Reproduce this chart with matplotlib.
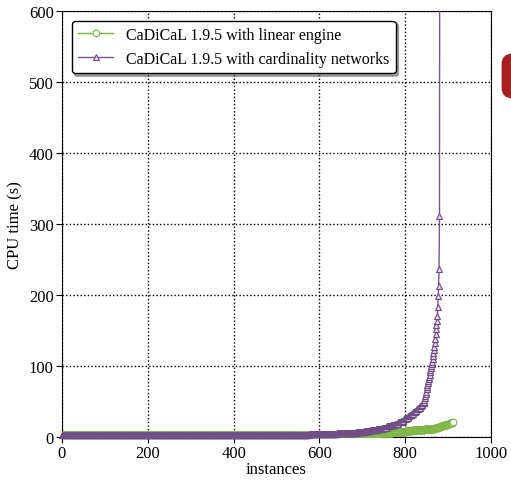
import numpy as np
import matplotlib.pyplot as plt
from matplotlib.patches import FancyBboxPatch
from matplotlib.transforms import Bbox, TransformedBbox

plt.rcParams['font.family'] = ['Liberation Serif', 'DejaVu Serif']

# sorted solve times (s) as (time, number of instances) runs
linear_times = [2.2, 2.4, 2.7, 3.0, 3.2, 3.5, 4.0, 4.6, 5.3, 6.0, 6.8, 7.7, 8.6,
                9.4, 10.2, 11.0, 11.8, 12.8, 13.8, 15.0, 16.2, 17.3, 18.3, 19.2,
                20.0, 20.5]
linear_counts = [260, 100, 100, 200, 30, 20, 15, 15, 15, 15, 15, 15, 15,
                 15, 15, 13, 10, 8, 6, 6, 5, 5, 5, 4, 3, 1]

card_times = [2.2, 2.4, 2.7, 3.0, 3.4, 3.9, 4.5, 5.2, 6.2, 7.4, 8.8, 10, 11.5,
              13, 15, 17, 19, 21, 23, 25, 27, 29, 31, 33, 35, 37, 39, 41, 43, 45, 48,
              50, 52, 55, 58, 61, 64, 67, 70, 73, 76, 79, 82, 85, 88, 91, 94, 97, 100,
              103, 106, 110, 114, 118, 122, 127, 132, 138, 145, 152, 158, 163, 170,
              183, 198, 213, 237, 311, 1200]
card_counts = [260, 100, 100, 70, 45, 35, 30, 25, 20, 18, 15, 14, 13,
               11, 10, 9, 8, 7, 6, 5, 5, 4, 4, 4, 4, 4, 4, 4, 3, 3, 3] + [1] * 38

linear = np.repeat(linear_times, linear_counts)
card = np.repeat(card_times, card_counts)

fig = plt.figure(figsize=(5.11, 4.81), dpi=100)
ax = fig.add_axes([0.1213, 0.0894, 0.8395, 0.8856])

green = '#7db543'
purple = '#7a5590'
ax.plot(np.arange(1, len(linear) + 1), linear, '-o', color=green, lw=1,
        markersize=4.8, markerfacecolor='white', markeredgecolor=green,
        markeredgewidth=0.8, label='CaDiCaL 1.9.5 with linear engine', zorder=3)
l2, = ax.plot(np.arange(1, len(card) + 1), card, '-^', color=purple, lw=1,
              markersize=5, markerfacecolor='#e3d8ea', markeredgecolor='#6e4b84',
              markeredgewidth=0.8, label='CaDiCaL 1.9.5 with cardinality networks',
              zorder=4)

# purple markers spill a little below the x axis, as in the original
l2.set_clip_box(TransformedBbox(Bbox([[-0.01, -0.006], [1.01, 1.0]]), ax.transAxes))

ax.set_xlim(0, 1000)
ax.set_ylim(0, 600)
ax.set_xticks([0, 200, 400, 600, 800, 1000])
ax.set_yticks([0, 100, 200, 300, 400, 500, 600])
ax.grid(True, color='black', linestyle=(0, (1, 1.6)), linewidth=1)
ax.tick_params(labelsize=12, direction='out', length=4, pad=2)
ax.set_xlabel('instances', fontsize=12, labelpad=0)
ax.set_ylabel('CPU time (s)', fontsize=12, labelpad=4)

leg = ax.legend(loc='upper left', fontsize=11.5, shadow=True, fancybox=True,
                framealpha=1, edgecolor='black', borderaxespad=0.6,
                handlelength=2.2)
leg.get_frame().set_linewidth(1)

fig.patches.append(FancyBboxPatch((0.983, 0.795), 0.05, 0.09,
                                  boxstyle='round,pad=0,rounding_size=0.02',
                                  transform=fig.transFigure, color='#a81e1e'))

fig.savefig('out.png', dpi=100)
